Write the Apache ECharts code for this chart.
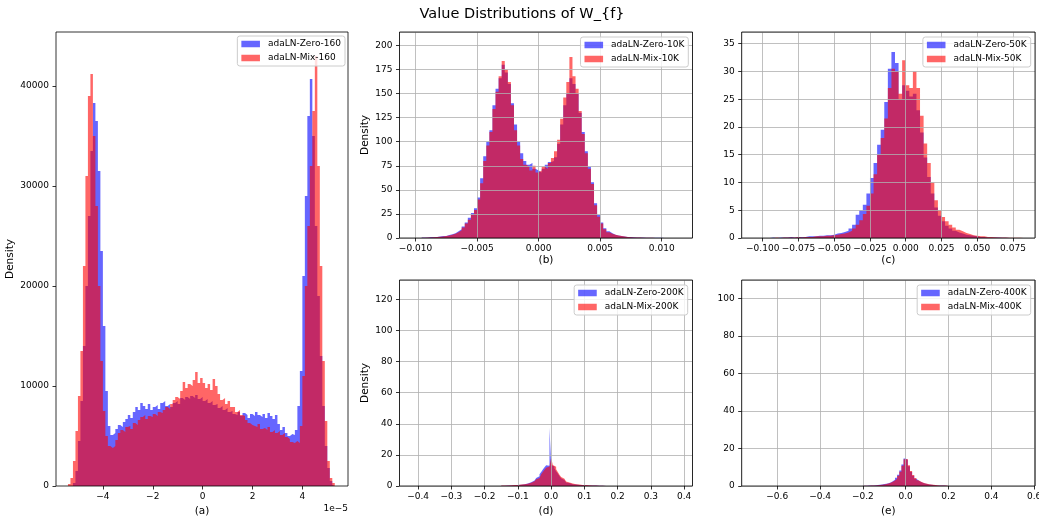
<!DOCTYPE html>
<html><head><meta charset="utf-8">
<script src="https://cdn.jsdelivr.net/npm/echarts@6/dist/echarts.min.js"></script>
<style>html,body{margin:0;padding:0;background:#fff}#c{width:1039px;height:516px}</style>
</head><body><div id="c"></div>
<script>
const FONT = 'DejaVu Sans';

// ---------- (a) step 160, bins start -5.4 (x1e-5), width 0.1 ----------
const aStart = -5.4, aWidth = 0.1;
const aZero = [
  0, 0, 300, 1500, 4500, 8500, 14000, 20000, 27000, 33500,
  38300, 36500, 31500, 23500, 16000, 9500, 6000, 5100, 5300, 5700,
  6100, 5900, 6400, 6700, 7100, 6800, 7400, 7900, 7600, 8300,
  8000, 7700, 8200, 7600, 7900, 8100, 7700, 8300, 8500, 8000,
  8200, 7900, 8300, 8500, 8200, 8800, 8600, 8900, 8700, 9000,
  8800, 9100, 8700, 8900, 8500, 8700, 8300, 8500, 8100, 8200,
  7800, 8000, 7600, 7800, 7400, 7500, 7200, 7100, 7400, 7000,
  7300, 7100, 6800, 7200, 7000, 7400, 7100, 6900, 7200, 6800,
  7300, 7000, 6700, 7100, 6200, 5600, 5900, 5300, 5000, 5200,
  5100, 5600, 8000, 11500, 21000, 29000, 37000, 40700, 35000, 26000,
  19000, 13000, 8000, 4000, 1800, 500, 100
];
const aMix = [
  200, 800, 2500, 5500, 9000, 13500, 22000, 31000, 39000, 41200,
  35000, 28000, 20000, 12500, 7500, 5000, 4000, 3800, 4000, 4600,
  5300, 5600, 5400, 5900, 6000, 5700, 6300, 6100, 6600, 6900,
  7100, 6700, 7000, 6900, 7200, 7000, 7400, 7300, 7600, 7900,
  7700, 8200, 8600, 8900, 8700, 9500, 10400, 9800, 10200, 10000,
  10600, 11400, 10300, 10800, 10300, 9800, 10200, 9600, 10700, 10000,
  9200, 8600, 8800, 8200, 8500, 7900, 7900, 7400, 7600, 7100,
  7000, 6600, 6300, 6100, 6000, 5900, 6200, 5700, 5800, 5600,
  5900, 5400, 5600, 5300, 5500, 5100, 5300, 4900, 4700, 4400,
  4300, 4500, 4300, 6000, 11000, 20000, 26000, 32000, 37500, 43000,
  32000, 22000, 12500, 6500, 2500, 800, 300
];

// ---------- (b) 10K ----------
const bStart = -0.0095, bWidth = 0.00025;
const bZero = [
  0.5, 0.5, 1, 1, 1, 1.5, 2, 2, 3, 4,
  5, 7, 9, 12, 16, 21, 26, 31, 42, 62,
  85, 100, 112, 138, 155, 166, 180, 172, 160, 140,
  118, 100, 88, 80, 76, 78, 72, 70, 68, 72,
  76, 79, 80, 84, 98, 118, 138, 150, 166, 160,
  150, 130, 110, 90, 74, 58, 36, 24, 16, 10,
  7, 5, 3.5, 2.5, 2, 1.5, 1, 1, 0.8, 0.6,
  0.5, 0.4, 0.3, 0.3, 0.3, 0.2, 0.2, 0.2, 0.1, 0.1
];
const bMix = [
  0.3, 0.4, 0.6, 0.8, 1, 1.2, 1.6, 2, 2.5, 3.5,
  4.5, 6, 8, 11, 15, 19, 24, 29, 40, 57,
  80, 96, 110, 134, 152, 168, 184, 175, 162, 138,
  112, 96, 82, 76, 74, 70, 75, 68, 70, 74,
  72, 78, 83, 90, 102, 124, 146, 162, 188, 168,
  155, 132, 108, 88, 72, 56, 34, 22, 15, 9,
  6, 4.5, 3.5, 2.5, 2, 1.5, 1, 0.8, 0.6, 0.5,
  0.4, 0.3, 0.2, 0.2, 0.2, 0.1, 0.1, 0.1, 0.1, 0.1
];

// ---------- (c) 50K ----------
const cStart = -0.1, cWidth = 0.0025;
const cZero = [
  0, 0, 0.1, 0, 0.1, 0.1, 0.1, 0.2, 0.1, 0.2,
  0.2, 0.2, 0.3, 0.3, 0.3, 0.4, 0.4, 0.5, 0.5, 0.6,
  0.8, 0.9, 1.1, 1.3, 1.7, 2.4, 4.2, 5.0, 6.0, 8.0,
  10.8, 13.5, 16.8, 19.5, 24.5, 30.5, 33.5, 31.5, 25.0, 27.5,
  26.5, 25.5, 26.0, 23.0, 19.0, 14.5, 11.0, 8.0, 5.5, 4.0,
  3.0, 2.2, 1.7, 1.3, 1.0, 0.8, 0.6, 0.5, 0.4, 0.3,
  0.2, 0.2, 0.1, 0.1, 0.1, 0.1, 0.05, 0.05, 0, 0,
  0, 0, 0
];
const cMix = [
  0, 0, 0, 0.1, 0, 0.1, 0.1, 0.1, 0.1, 0.2,
  0.1, 0.2, 0.2, 0.2, 0.3, 0.3, 0.3, 0.4, 0.4, 0.5,
  0.6, 0.7, 0.8, 1.0, 1.3, 1.7, 2.4, 3.2, 4.3, 5.8,
  8.0, 11.5, 15.0, 18.0, 21.5, 27.0, 30.5, 30.0, 26.0, 32.0,
  27.5, 27.0, 30.0, 27.0, 22.0, 17.0, 13.5, 10.0, 6.8, 5.0,
  3.8, 3.0, 2.4, 1.9, 1.5, 1.2, 0.9, 0.7, 0.5, 0.4,
  0.3, 0.3, 0.2, 0.2, 0.15, 0.1, 0.1, 0.1, 0.05, 0.05,
  0.05, 0.05, 0.05
];

// ---------- (d) 200K ----------
const dStart = -0.15, dWidth = 0.005;
const dZero = [
  0.2, 0.2, 0.3, 0.3, 0.3, 0.4, 0.4, 0.5, 0.5, 0.6,
  0.7, 0.8, 1.0, 1.1, 1.3, 1.6, 2.0, 2.4, 2.9, 3.5,
  4.3, 5.2, 6.3, 7.6, 9.0, 10.6, 12.0, 13.3, 13.0, 37.5,
  13.5, 12.5, 11.2, 9.5, 8.0, 6.4, 5.0, 3.9, 3.0, 2.3,
  1.9, 1.5, 1.2, 1.0, 0.9, 0.8, 0.7, 0.6, 0.6, 0.5,
  0.5, 0.4, 0.4, 0.4, 0.3, 0.3, 0.3, 0.2, 0.2, 0.2,
  0.2, 0.1, 0.1
];
const dMix = [
  0.3, 0.3, 0.4, 0.4, 0.4, 0.5, 0.5, 0.6, 0.6, 0.7,
  0.8, 0.9, 1.0, 1.1, 1.3, 1.5, 1.8, 2.1, 2.5, 3.0,
  3.6, 4.3, 5.2, 6.3, 7.6, 9.0, 10.5, 11.8, 12.6, 13.5,
  18.0, 13.5, 12.3, 10.8, 9.0, 7.3, 5.8, 4.6, 3.6, 2.9,
  2.3, 1.9, 1.6, 1.3, 1.1, 1.0, 0.9, 0.8, 0.7, 0.6,
  0.6, 0.5, 0.5, 0.4, 0.4, 0.3, 0.3, 0.3, 0.2, 0.2,
  0.2, 0.1, 0.1
];

// ---------- (e) 400K ----------
const eStart = -0.2, eWidth = 0.01;
const eZero = [
  0.1, 0.1, 0.2, 0.2, 0.3, 0.4, 0.5, 0.6, 0.8, 1.0,
  1.2, 1.5, 1.9, 2.5, 3.3, 4.4, 6.0, 8.3, 11.5, 14.6,
  13.8, 10.5, 7.6, 5.4, 3.9, 2.9, 2.2, 1.7, 1.3, 1.0,
  0.8, 0.7, 0.5, 0.4, 0.3, 0.3, 0.2, 0.2, 0.1, 0.1
];
const eMix = [
  0.1, 0.1, 0.1, 0.2, 0.2, 0.3, 0.4, 0.5, 0.6, 0.8,
  1.0, 1.3, 1.7, 2.2, 2.9, 3.9, 5.4, 7.6, 10.8, 14.2,
  14.4, 11.0, 8.0, 5.8, 4.2, 3.1, 2.4, 1.9, 1.5, 1.2,
  0.9, 0.8, 0.6, 0.5, 0.4, 0.3, 0.3, 0.2, 0.2, 0.1
];

const titleText = 'Value Distributions of W_{f}';
const panelLabels = ['(a)', '(b)', '(c)', '(d)', '(e)'];
const zeroNames = ['adaLN-Zero-160', 'adaLN-Zero-10K', 'adaLN-Zero-50K', 'adaLN-Zero-200K', 'adaLN-Zero-400K'];
const mixNames = ['adaLN-Mix-160', 'adaLN-Mix-10K', 'adaLN-Mix-50K', 'adaLN-Mix-200K', 'adaLN-Mix-400K'];
const offsetText = '1e\u22125';

// ---------- build ----------
const BLUE = 'rgba(0,0,255,0.6)';
const RED = 'rgba(255,0,0,0.6)';

function stepData(start, width, values) {
  const d = values.map((v, i) => [start + i * width, v]);
  d.push([start + values.length * width, values[values.length - 1]]);
  return d;
}
function hist(name, color, start, width, values, idx) {
  return {
    type: 'line', name: name, xAxisIndex: idx, yAxisIndex: idx,
    data: stepData(start, width, values), step: 'end',
    symbol: 'none', showSymbol: false,
    itemStyle: { color: color },
    lineStyle: { width: 0, opacity: 0 },
    areaStyle: { color: color, opacity: 1 },
    silent: true, animation: false, z: 1
  };
}
function minus(s) { return s.replace('-', '\u2212'); }
function fmtFixed(d) {
  return function (v) { if (Math.abs(v) < 1e-12) v = 0; return minus(v.toFixed(d)); };
}

const gridsPos = [
  { left: 56, top: 32, width: 292, height: 454 },
  { left: 399.5, top: 32, width: 293, height: 206 },
  { left: 741.7, top: 32, width: 293.3, height: 206 },
  { left: 399.5, top: 280, width: 293, height: 206 },
  { left: 741.7, top: 280, width: 293.3, height: 206 }
];
const grids = gridsPos.map(g => Object.assign({}, g, {
  show: true, borderColor: '#000', borderWidth: 0.8, backgroundColor: 'rgba(0,0,0,0)',
  z: 10, containLabel: false, outerBoundsMode: 'none'
}));

const xCfg = [
  { min: -5.88, max: 5.83, iv: 2, fmt: fmtFixed(0), grid: false, gap: 19 },
  { min: -0.0113, max: 0.0125, iv: 0.005, fmt: fmtFixed(3), grid: true, gap: 17 },
  { min: -0.1147, max: 0.0904, iv: 0.025, fmt: fmtFixed(3), grid: true, gap: 17 },
  { min: -0.456, max: 0.425, iv: 0.1, fmt: fmtFixed(1), grid: true, gap: 19.5 },
  { min: -0.766, max: 0.604, iv: 0.2, fmt: fmtFixed(1), grid: true, gap: 19.5 }
];
const yCfg = [
  { max: 45400, iv: 10000, name: 'Density', gap: 40 },
  { max: 214, iv: 25, name: 'Density', gap: 29 },
  { max: 37.1, iv: 5, name: '', gap: 29 },
  { max: 132.4, iv: 20, name: 'Density', gap: 29 },
  { max: 109.7, iv: 20, name: '', gap: 29 }
];
const tickStyle = { show: true, length: 3.5, inside: false, lineStyle: { color: '#000', width: 0.8 } };
const gridLine = (on) => ({ show: on, lineStyle: { color: '#b0b0b0', width: 0.8 } });

const xAxes = xCfg.map((c, i) => ({
  type: 'value', gridIndex: i, min: c.min, max: c.max, minInterval: c.iv, maxInterval: c.iv,
  z: 3,
  axisLine: { show: false, onZero: false },
  axisTick: tickStyle,
  splitLine: gridLine(c.grid),
  axisLabel: { show: true, formatter: c.fmt, showMinLabel: false, showMaxLabel: false, hideOverlap: false,
    margin: 6, fontFamily: FONT, fontSize: 9, color: '#000' },
  name: panelLabels[i], nameLocation: 'middle', nameGap: c.gap,
  nameTextStyle: { fontFamily: FONT, fontSize: 10.5, color: '#000' }
}));
const yAxes = yCfg.map((c, i) => ({
  type: 'value', gridIndex: i, min: 0, max: c.max, minInterval: c.iv, maxInterval: c.iv,
  z: 3,
  axisLine: { show: false, onZero: false },
  axisTick: tickStyle,
  splitLine: gridLine(i > 0),
  axisLabel: { show: true, formatter: v => String(Math.round(v)), showMinLabel: true, showMaxLabel: false, hideOverlap: false,
    margin: 7, fontFamily: FONT, fontSize: 9, color: '#000' },
  name: c.name, nameLocation: 'middle', nameGap: c.gap,
  nameTextStyle: { fontFamily: FONT, fontSize: 10.5, color: '#000' }
}));

const series = [
  hist(zeroNames[0], BLUE, aStart, aWidth, aZero, 0), hist(mixNames[0], RED, aStart, aWidth, aMix, 0),
  hist(zeroNames[1], BLUE, bStart, bWidth, bZero, 1), hist(mixNames[1], RED, bStart, bWidth, bMix, 1),
  hist(zeroNames[2], BLUE, cStart, cWidth, cZero, 2), hist(mixNames[2], RED, cStart, cWidth, cMix, 2),
  hist(zeroNames[3], BLUE, dStart, dWidth, dZero, 3), hist(mixNames[3], RED, dStart, dWidth, dMix, 3),
  hist(zeroNames[4], BLUE, eStart, eWidth, eZero, 4), hist(mixNames[4], RED, eStart, eWidth, eMix, 4)
];

const legPos = [
  { right: 694, top: 36 }, { right: 350.7, top: 37 }, { right: 8.3, top: 37 },
  { right: 351.3, top: 285 }, { right: 8.3, top: 285 }
];
const legends = legPos.map((p, i) => ({
  orient: 'vertical', right: p.right, top: p.top,
  data: [{ name: zeroNames[i], itemStyle: { color: BLUE } }, { name: mixNames[i], itemStyle: { color: RED } }],
  icon: 'rect', itemWidth: 18.6, itemHeight: 6.5, itemGap: 4,
  padding: [3, 4, 3, 4], borderColor: '#cccccc', borderWidth: 1, borderRadius: 2.5,
  backgroundColor: 'rgba(255,255,255,0.8)', selectedMode: false, z: 20,
  textStyle: { fontFamily: FONT, fontSize: 9, color: '#000', lineHeight: 10, padding: [0, 0, 0, 3] }
}));

const chart = echarts.init(document.getElementById('c'), null, { renderer: 'canvas' });
chart.setOption({
  animation: false,
  backgroundColor: '#fff',
  textStyle: { fontFamily: FONT },
  grid: grids, xAxis: xAxes, yAxis: yAxes, legend: legends, series: series,
  graphic: [
    { type: 'text', z: 30, style: { text: titleText, x: 522, y: 14, align: 'center', verticalAlign: 'middle',
      font: '14.5px "DejaVu Sans"', fill: '#000' } },
    { type: 'text', z: 30, style: { text: offsetText, x: 348, y: 509, align: 'right', verticalAlign: 'middle',
      font: '9px "DejaVu Sans"', fill: '#000' } }
  ]
});
</script></body></html>
